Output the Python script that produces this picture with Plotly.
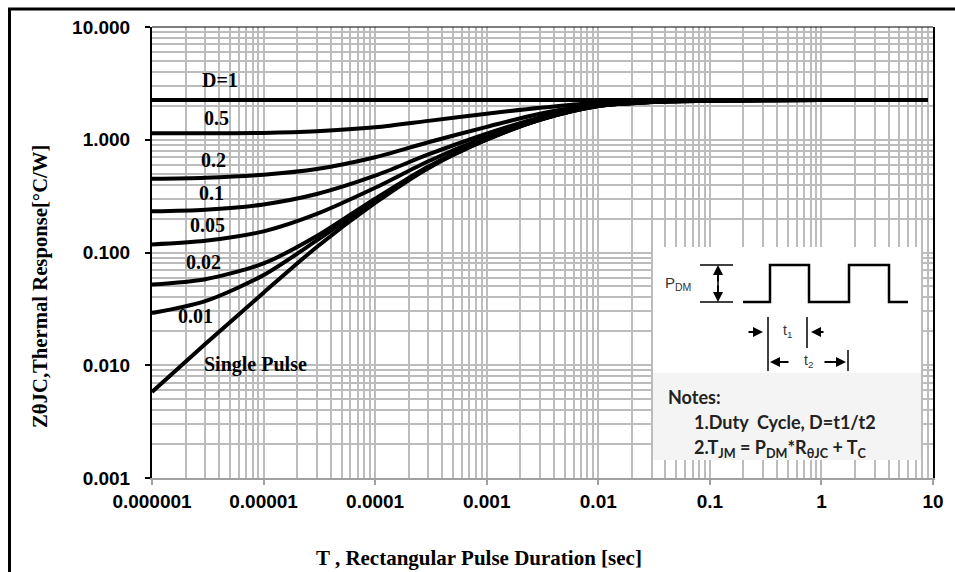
import plotly.graph_objects as go

# ---------------- data ----------------
pulse_t = [1e-6, 3e-6, 1e-5, 3e-5, 1e-4, 3e-4, 1e-3, 3e-3, 1e-2, 3e-2, 0.1, 1, 9]

z_d1 = [2.25, 2.25, 2.25, 2.25, 2.25, 2.25, 2.25, 2.25, 2.25, 2.25, 2.25, 2.25, 2.25]
z_d05 = [1.14, 1.14, 1.15, 1.19, 1.29, 1.47, 1.70, 1.92, 2.13, 2.21, 2.24, 2.25, 2.25]
z_d02 = [0.45, 0.46, 0.49, 0.55, 0.70, 0.95, 1.30, 1.70, 2.06, 2.19, 2.24, 2.25, 2.25]
z_d01 = [0.232, 0.24, 0.267, 0.33, 0.48, 0.74, 1.13, 1.58, 2.02, 2.17, 2.23, 2.25, 2.25]
z_d005 = [0.118, 0.127, 0.154, 0.22, 0.375, 0.645, 1.06, 1.54, 2.00, 2.17, 2.22, 2.25, 2.25]
z_d002 = [0.052, 0.058, 0.080, 0.14, 0.30, 0.58, 1.01, 1.51, 1.99, 2.16, 2.22, 2.25, 2.25]
z_d001 = [0.029, 0.037, 0.063, 0.128, 0.29, 0.57, 1.005, 1.505, 1.99, 2.16, 2.22, 2.25, 2.25]
z_single = [0.0058, 0.0154, 0.044, 0.112, 0.275, 0.56, 1.0, 1.5, 1.99, 2.16, 2.22, 2.25, 2.25]

series_names = ["D=1", "0.5", "0.2", "0.1", "0.05", "0.02", "0.01", "Single Pulse"]
series_values = [z_d1, z_d05, z_d02, z_d01, z_d005, z_d002, z_d001, z_single]

x_tick_vals = [1e-6, 1e-5, 1e-4, 1e-3, 1e-2, 1e-1, 1, 10]
x_tick_labels = ["0.000001", "0.00001", "0.0001", "0.001", "0.01", "0.1", "1", "10"]
y_tick_vals = [0.001, 0.01, 0.1, 1, 10]
y_tick_labels = ["0.001", "0.010", "0.100", "1.000", "10.000"]

# ---------------- layout geometry (pixels) ----------------
W_PX, H_PX = 955, 572
L, R, T, B = 152, 933, 27, 478


def px(x):
    return (x - L) / (R - L)


def py(y):
    return (B - y) / (B - T)


GRID = "#bcbcbc"
SERIF = "Liberation Serif"
SANS = "Liberation Sans"
NOTE_FONT = "Lato"

fig = go.Figure()
for name, vals in zip(series_names, series_values):
    fig.add_trace(go.Scatter(
        x=pulse_t, y=vals, mode="lines", name=name,
        line=dict(color="black", width=4, shape="spline", smoothing=0.8),
        showlegend=False, hoverinfo="skip",
    ))

# curve labels (pixel positions)
label_pos = {
    "D=1": (220, 80), "0.5": (216, 118), "0.2": (213, 160), "0.1": (211, 193),
    "0.05": (207, 225), "0.02": (203, 262), "0.01": (195, 316), "Single Pulse": (255, 364),
}
annotations = []
for name in series_names:
    lx, ly = label_pos[name]
    annotations.append(dict(
        x=px(lx), y=py(ly), xref="paper", yref="paper", text=name, showarrow=False,
        font=dict(family=SERIF, size=20, color="black", weight="bold"),
        xanchor="center", yanchor="middle",
    ))

# axis titles
annotations.append(dict(
    x=px(41), y=py(287), xref="paper", yref="paper", textangle=-90,
    text="ZθJC,Thermal Response[°C/W]", showarrow=False,
    font=dict(family=SERIF, size=20.7, color="black", weight="bold"),
    xanchor="center", yanchor="middle",
))
annotations.append(dict(
    x=px(479), y=py(558), xref="paper", yref="paper",
    text="T , Rectangular Pulse Duration [sec]", showarrow=False,
    font=dict(family=SERIF, size=21, color="black", weight="bold"),
    xanchor="center", yanchor="middle",
))

# inset texts
annotations += [
    dict(x=px(663), y=py(283), xref="paper", yref="paper", text="P<sub>DM</sub>",
         showarrow=False, font=dict(family=SANS, size=15, color="#333333"),
         xanchor="left", yanchor="middle"),
    dict(x=px(787), y=py(331), xref="paper", yref="paper", text="t<sub>1</sub>",
         showarrow=False, font=dict(family=SANS, size=14, color="#333333"),
         xanchor="center", yanchor="middle"),
    dict(x=px(808), y=py(361), xref="paper", yref="paper", text="t<sub>2</sub>",
         showarrow=False, font=dict(family=SANS, size=14, color="#333333"),
         xanchor="center", yanchor="middle"),
    dict(x=px(666), y=py(397), xref="paper", yref="paper", text="<b>Notes:</b>",
         showarrow=False, font=dict(family=NOTE_FONT, size=18, color="#222222"),
         xanchor="left", yanchor="middle"),
    dict(x=px(692), y=py(422), xref="paper", yref="paper",
         text="<b>1.Duty  Cycle, D=t1/t2</b>",
         showarrow=False, font=dict(family=NOTE_FONT, size=18, color="#222222"),
         xanchor="left", yanchor="middle"),
    dict(x=px(692), y=py(448), xref="paper", yref="paper",
         text="<b>2.T<sub>JM</sub> = P<sub>DM</sub>*R<sub>θJC</sub> + T<sub>C</sub></b>",
         showarrow=False, font=dict(family=NOTE_FONT, size=18, color="#222222"),
         xanchor="left", yanchor="middle"),
]

# arrows in the inset (head position, tail offset in px)
arrows = [((718, 265), (0, 18)), ((718, 302), (0, -18)),
          ((763, 332), (-16, 0)), ((811, 332), (14, 0)),
          ((770, 362), (20, 0)), ((846, 362), (-23, 0))]
for (hx, hy), (ax, ay) in arrows:
    annotations.append(dict(
        x=px(hx), y=py(hy), xref="paper", yref="paper", ax=ax, ay=ay,
        text="", showarrow=True, arrowhead=2, arrowsize=1, arrowwidth=2,
        arrowcolor="black", standoff=0, startstandoff=0,
    ))

shapes = []
# inset boxes
shapes.append(dict(type="rect", xref="paper", yref="paper", x0=px(653), x1=px(921),
                   y0=py(373), y1=py(247), fillcolor="white", line=dict(width=0)))
shapes.append(dict(type="rect", xref="paper", yref="paper", x0=px(653), x1=px(921),
                   y0=py(460), y1=py(373), fillcolor="#f4f4f4", line=dict(width=0)))
# waveform
wave = [(743, 302), (770, 302), (770, 265), (809, 265), (809, 302), (849, 302),
        (849, 265), (889, 265), (889, 302), (908, 302)]
path = "M " + " L ".join(f"{px(a):.5f},{py(b):.5f}" for a, b in wave)
shapes.append(dict(type="path", xref="paper", yref="paper", path=path,
                   line=dict(color="black", width=2.5)))


def seg(x0, y0, x1, y1, w=1.5, c="black"):
    return dict(type="line", xref="paper", yref="paper", x0=px(x0), y0=py(y0),
                x1=px(x1), y1=py(y1), line=dict(color=c, width=w))


shapes += [
    seg(700, 265, 733, 265), seg(700, 302, 733, 302),
    seg(718, 267, 718, 300),
    seg(768, 317, 768, 371), seg(807, 317, 807, 348), seg(848, 350, 848, 371),
    # plot top border
    seg(L, T, R, T, w=1.2),
    # outer frame
    seg(8, 9, 955, 9, w=3), seg(9.5, 8, 9.5, 572, w=3),
]

fig.update_layout(
    width=W_PX, height=H_PX, autosize=False,
    margin=dict(l=L, r=W_PX - R, t=T, b=H_PX - B, pad=0),
    paper_bgcolor="white", plot_bgcolor="white",
    annotations=annotations, shapes=shapes,
    xaxis=dict(
        type="log", range=[-6, 1], tickmode="array", tickvals=x_tick_vals,
        ticktext=x_tick_labels, showgrid=True, gridcolor=GRID, gridwidth=1.5,
        minor=dict(dtick="D1", showgrid=True, gridcolor=GRID, gridwidth=1.5, ticks=""),
        ticks="outside", ticklen=5, tickcolor="#a0a0a0", tickwidth=1.5,
        showline=True, linecolor="#a0a0a0", linewidth=1.5, zeroline=False,
        tickfont=dict(family=SANS, size=19, color="black", weight="bold"),
    ),
    yaxis=dict(
        type="log", range=[-3, 1], tickmode="array", tickvals=y_tick_vals,
        ticktext=y_tick_labels, showgrid=True, gridcolor=GRID, gridwidth=1.5,
        minor=dict(dtick="D1", showgrid=True, gridcolor=GRID, gridwidth=1.5, ticks=""),
        ticks="outside", ticklen=5, tickcolor="black", tickwidth=1.5,
        showline=True, linecolor="black", linewidth=2, mirror=True, zeroline=False,
        ticklabelstandoff=11,
        tickfont=dict(family=SANS, size=19, color="black", weight="bold"),
    ),
)

fig.write_html(
    "out.html",
    config={"displayModeBar": False},
    post_script="document.body.style.margin='0';document.body.style.overflow='hidden';",
)
